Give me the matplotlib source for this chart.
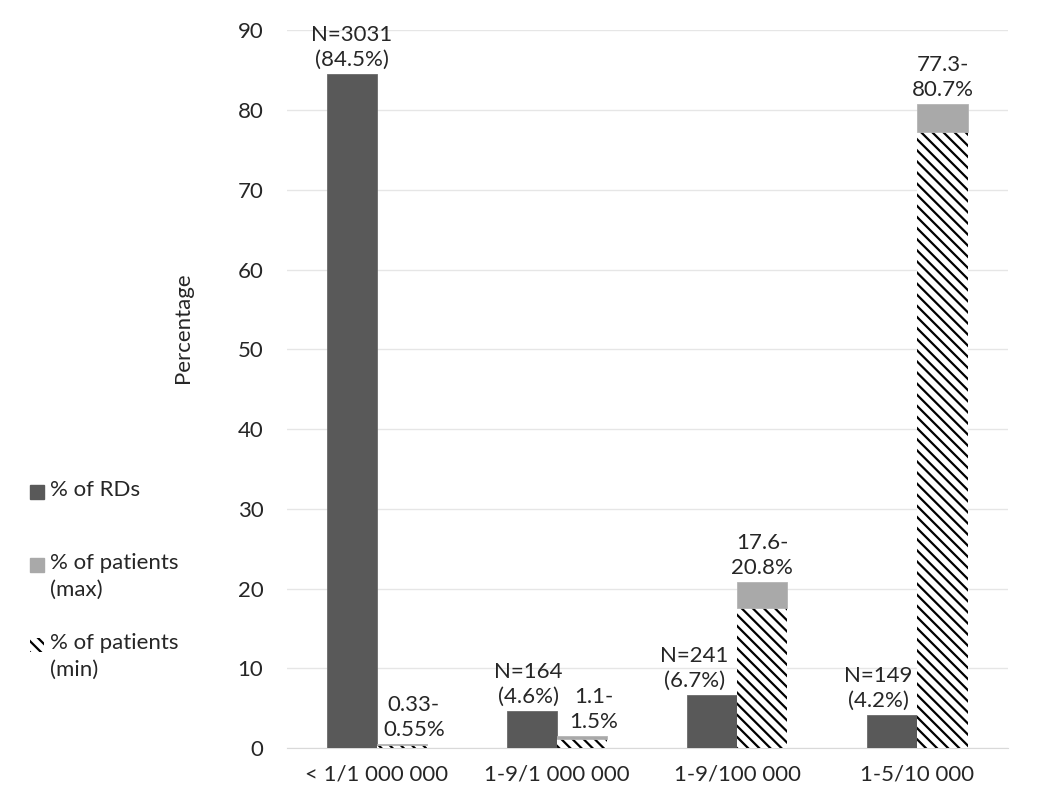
import matplotlib
matplotlib.use("Agg")
import numpy as np
import matplotlib.pyplot as plt
from matplotlib.patches import Rectangle

plt.rcParams['font.family'] = ['Lato', 'DejaVu Sans']
plt.rcParams['hatch.linewidth'] = 1.6

categories = ['< 1/1 000 000', '1-9/1 000 000', '1-9/100 000', '1-5/10 000']
rd_pct = [84.5, 4.6, 6.7, 4.2]
rd_n = [3031, 164, 241, 149]
pat_min = [0.33, 1.1, 17.6, 77.3]
pat_max = [0.55, 1.5, 20.8, 80.7]
pat_min_txt = ['0.33', '1.1', '17.6', '77.3']
pat_max_txt = ['0.55', '1.5', '20.8', '80.7']
legend_labels = ['% of RDs', '% of patients\n(max)', '% of patients\n(min)']

dark = '#595959'
light = '#a9a9a9'
txt = '#262626'
fs = 16

fig = plt.figure(figsize=(10.55, 7.95), dpi=100)
ax = fig.add_axes([0.272, 0.059, 0.683, 0.903])

x = np.arange(len(categories))
w = 0.278

ax.bar(x - w / 2, rd_pct, w, color=dark, edgecolor='#6a6a6a', linewidth=0.6, zorder=3)
ax.bar(x + w / 2, pat_min, w, color='white', edgecolor='black', hatch='\\\\\\',
       linewidth=0, zorder=3)
ax.bar(x + w / 2, np.array(pat_max) - np.array(pat_min), w, bottom=pat_min,
       color=light, edgecolor='#b5b5b5', linewidth=0.6, zorder=3)

# labels nudged sideways where they would run into the neighbouring bar/label
n_dx = [0.0, -0.02, -0.1, -0.08]
r_dx = [0.065, 0.065, 0.0, 0.0]
for i in range(len(categories)):
    ax.annotate('N=%d\n(%.1f%%)' % (rd_n[i], rd_pct[i]), (x[i] - w / 2 + n_dx[i], rd_pct[i]),
                xytext=(0, 3), textcoords='offset points', ha='center', va='bottom',
                fontsize=fs, color=txt, linespacing=1.3)
    ax.annotate('%s-\n%s%%' % (pat_min_txt[i], pat_max_txt[i]), (x[i] + w / 2 + r_dx[i], pat_max[i]),
                xytext=(0, 3), textcoords='offset points', ha='center', va='bottom',
                fontsize=fs, color=txt, linespacing=1.3)

ax.set_xlim(-0.5, 3.5)
ax.set_ylim(0, 90)
ax.set_yticks(range(0, 91, 10))
ax.set_xticks(x)
ax.set_xticklabels(categories)
ax.tick_params(axis='both', length=0, labelsize=fs, labelcolor=txt)
ax.tick_params(axis='y', pad=17)
ax.tick_params(axis='x', pad=12)
ax.yaxis.grid(True, color='#e6e6e6', linewidth=1, zorder=0)
ax.set_axisbelow(True)
for s in ['top', 'right', 'left']:
    ax.spines[s].set_visible(False)
ax.spines['bottom'].set_color('#d9d9d9')
ax.set_ylabel('Percentage', fontsize=fs, color=txt)
ax.yaxis.set_label_coords(-0.13, 0.586)

# legend drawn by hand so the swatch lines up with the first text line
W, H = fig.get_size_inches() * fig.dpi
leg_y = [492, 565, 645]
swatches = [dict(facecolor=dark, edgecolor=dark),
            dict(facecolor=light, edgecolor=light),
            dict(facecolor='white', edgecolor='black', hatch='\\\\\\', linewidth=0)]
for yy, lab, sw in zip(leg_y, legend_labels, swatches):
    fig.patches.append(Rectangle((30 / W, 1 - (yy + 7) / H), 14 / W, 14 / H,
                                 transform=fig.transFigure, **sw))
    fig.text(50 / W, 1 - (yy - 12) / H, lab, fontsize=fs, color=txt, ha='left',
             va='top', linespacing=1.4)

fig.savefig('out.png', dpi=100)
